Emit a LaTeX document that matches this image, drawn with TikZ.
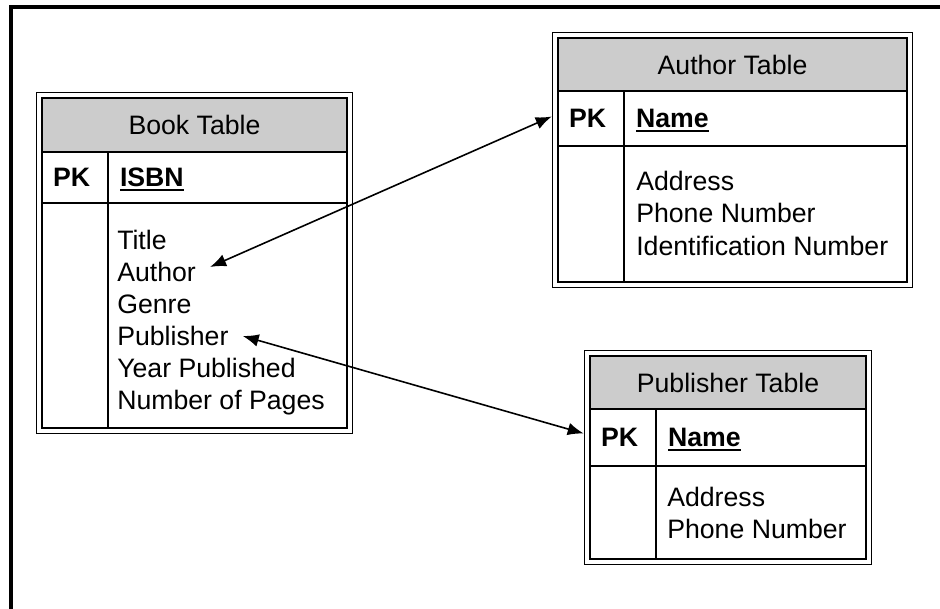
\documentclass[tikz,border=0pt]{standalone}
\usepackage{fontspec}
\setmainfont{Liberation Sans}
\usetikzlibrary{positioning,fit,arrows.meta}

\newcommand{\tabfont}{\fontsize{20}{24}\selectfont}
\newsavebox{\keybox}
\newcommand{\keyname}[1]{\sbox\keybox{\bfseries #1}\rlap{\smash{\rule[-3.4pt]{\wd\keybox}{1.5pt}}}\usebox\keybox}

\tikzset{
  cell/.style={draw, line width=1.3pt, outer sep=0pt, inner sep=0pt, font=\tabfont},
  head/.style={cell, fill=gray!40},
  pkcell/.style={cell, text width=33pt, inner xsep=8.25pt, align=left, font=\tabfont\bfseries},
  keycell/.style={cell, text width=#1, inner xsep=9pt, align=left},
  tblbox/.style={draw, line width=1.2pt, inner sep=4.1pt},
  field/.style={anchor=base west, inner sep=0pt, font=\tabfont},
  link/.style={{Latex[length=12pt,width=9.5pt]}-{Latex[length=12pt,width=9.5pt]}, line width=1.2pt}
}

\begin{document}
\begin{tikzpicture}[x=0.75pt,y=-0.75pt]
\useasboundingbox (0,0) rectangle (940,609);
\draw[line width=3pt] (11,609) -- (11,7) -- (940,7);

% book table
\node[head, minimum width=228.75pt, minimum height=40.5pt, anchor=north west] (bhead) at (42,98) {Book Table};
\node[pkcell, minimum height=38.25pt, below right=0pt of bhead.south west] (bpk) {PK};
\node[keycell=161.25pt, minimum height=38.25pt, right=0pt of bpk] (bkey) {\keyname{ISBN}};
\node[cell, minimum width=49.5pt, minimum height=168.75pt, below=0pt of bpk] (bgap) {};
\node[cell, minimum width=179.25pt, minimum height=168.75pt, below=0pt of bkey] (bfields) {};
\node[tblbox, fit=(bhead)(bfields)] (book) {};
\node[field] (btitle) at (117,249.5) {Title};
\node[field] (bauthor) at (117,281.5) {Author};
\node[field] (bgenre) at (117,313.5) {Genre};
\node[field] (bpub) at (117,345.5) {Publisher};
\node[field] (byear) at (117,377.5) {Year Published};
\node[field] (bpages) at (117,409.5) {Number of Pages};

% author table
\node[head, minimum width=261.75pt, minimum height=39.75pt, anchor=north west] (ahead) at (558,38) {Author Table};
\node[pkcell, minimum height=41.25pt, below right=0pt of ahead.south west] (apk) {PK};
\node[keycell=194.25pt, minimum height=41.25pt, right=0pt of apk] (akey) {\keyname{Name}};
\node[cell, minimum width=49.5pt, minimum height=102pt, below=0pt of apk] (agap) {};
\node[cell, minimum width=212.25pt, minimum height=102pt, below=0pt of akey] (afields) {};
\node[tblbox, fit=(ahead)(afields)] (author) {};
\node[field] (aaddr) at (636,190.5) {Address};
\node[field] (aphone) at (636,223) {Phone Number};
\node[field] (aid) at (636,255.5) {Identification Number};

% publisher table
\node[head, minimum width=207pt, minimum height=39.75pt, anchor=north west] (phead) at (590,356) {Publisher Table};
\node[pkcell, minimum height=42.75pt, below right=0pt of phead.south west] (ppk) {PK};
\node[keycell=139.5pt, minimum height=42.75pt, right=0pt of ppk] (pkey) {\keyname{Name}};
\node[cell, minimum width=49.5pt, minimum height=69.75pt, below=0pt of ppk] (pgap) {};
\node[cell, minimum width=157.5pt, minimum height=69.75pt, below=0pt of pkey] (pfields) {};
\node[tblbox, fit=(phead)(pfields)] (pub) {};
\node[field] (paddr) at (667,507) {Address};
\node[field] (pphone) at (667,539) {Phone Number};

% links
\coordinate (aend) at (apk.west -| author.west);
\coordinate (pend) at (ppk.west -| pub.west);
\draw[link] ([shift={(10.5pt,3.75pt)}]bauthor.east) -- ([yshift=1.5pt]aend);
\draw[link] ([xshift=10.5pt]bpub.east) -- ([yshift=3pt]pend);
\end{tikzpicture}
\end{document}
